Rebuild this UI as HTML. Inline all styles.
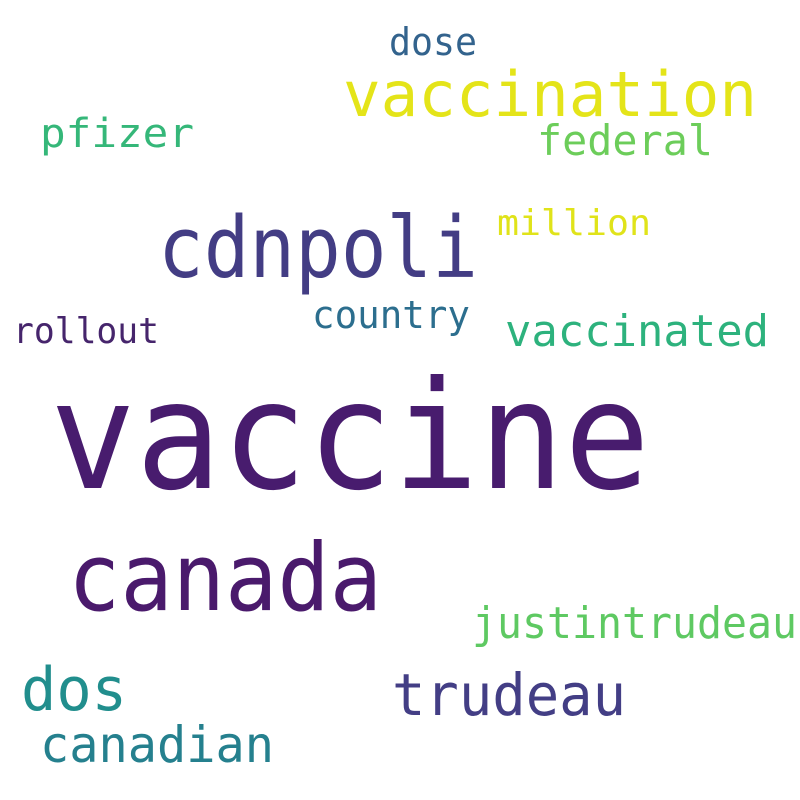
<!DOCTYPE html>
<html><head><meta charset="utf-8"><style>
html,body{margin:0;padding:0;background:#fff;}
svg{display:block;}
text{font-family:"DejaVu Sans Mono","Liberation Mono",monospace;}
</style></head><body>
<svg id="cloud" width="800" height="800" viewBox="0 0 800 800">
<rect width="800" height="800" fill="#fff"/>
</svg>
<script>
const words = ["vaccine","canada","cdnpoli","vaccination","dose","pfizer","federal","million","country","rollout","vaccinated","justintrudeau","dos","trudeau","canadian"];
const xStart = [50,68,158,343,389,40,537,497,312,13,505,472,21,392,40];
const xEnd = [650,382,478,757,477,194,713,651,470,159,769,797,127,626,274];
const baseline = [488,610,277,116,55,147,155,235,328,343,346,638,710,715,762];
const sizes = [150,94,85,62,38,40,42,36,38,36,44,44,60,58,50];
const colors = ["#481c6e","#4a1a6c","#433d84","#e4e419","#33638d","#35b779","#6ccd5a","#e0e31a","#2c6e8e","#46256c","#2db27d","#5ec962","#218e8d","#433e85","#25808e"];
const svg = document.getElementById('cloud');
const NS = "http://www.w3.org/2000/svg";
for (let i = 0; i < words.length; i++) {
  const t = document.createElementNS(NS, 'text');
  t.setAttribute('x', xStart[i]);
  t.setAttribute('y', baseline[i]);
  t.setAttribute('font-size', sizes[i]);
  t.setAttribute('fill', colors[i]);
  t.setAttribute('textLength', xEnd[i] - xStart[i]);
  t.setAttribute('lengthAdjust', 'spacingAndGlyphs');
  t.textContent = words[i];
  
  
  svg.appendChild(t);
}
</script>
</body></html>
